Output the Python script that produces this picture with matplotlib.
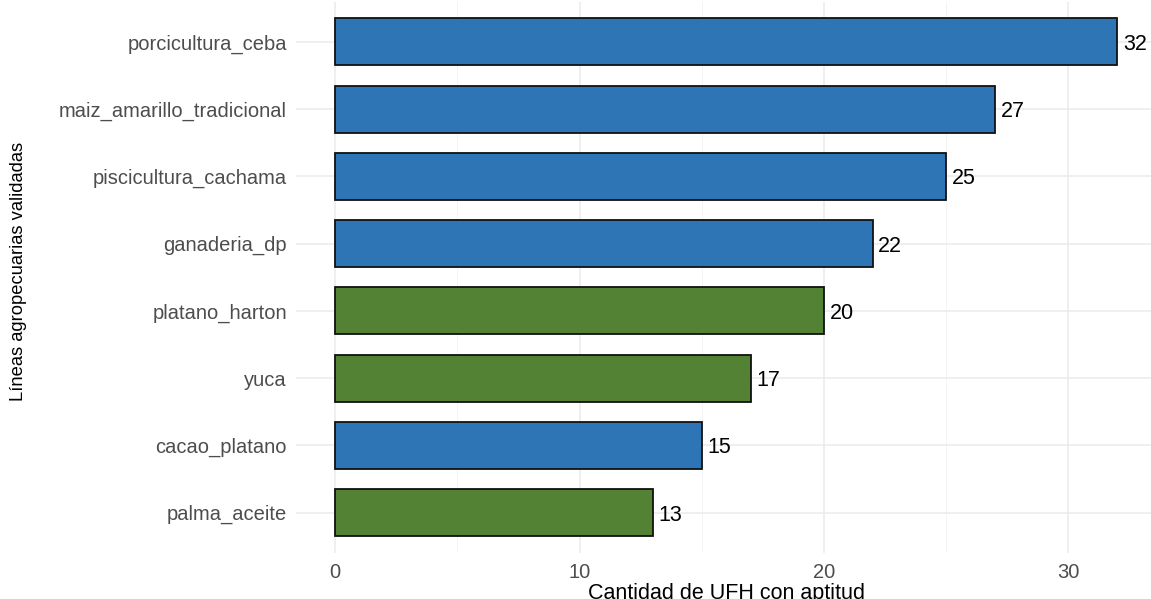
import matplotlib.pyplot as plt

# data, bottom to top
lineas = ['palma_aceite', 'cacao_platano', 'yuca', 'platano_harton',
          'ganaderia_dp', 'piscicultura_cachama', 'maiz_amarillo_tradicional',
          'porcicultura_ceba']
cantidad = [13, 15, 17, 20, 22, 25, 27, 32]
tipo = ['agricola', 'pecuaria', 'agricola', 'agricola',
        'pecuaria', 'pecuaria', 'pecuaria', 'pecuaria']

colores = {'pecuaria': '#2E75B6', 'agricola': '#548235'}

plt.rcParams['font.family'] = ['Liberation Sans', 'DejaVu Sans']

fig = plt.figure(figsize=(11.51, 5.99), dpi=100)
W, H = 1151, 599
x0, x1 = 296, 1156.5
y_top, y_bot = 1.6, 553
ax = fig.add_axes([x0 / W, (H - y_bot) / H, (x1 - x0) / W, (y_bot - y_top) / H])

ypos = list(range(1, len(lineas) + 1))
ax.barh(ypos, cantidad, height=0.7, color=[colores[t] for t in tipo],
        edgecolor='#111111', linewidth=1.3, zorder=3)
for y, v in zip(ypos, cantidad):
    ax.text(v + 0.22, y, str(v), va='center_baseline', ha='left', fontsize=15.5,
            color='black', zorder=4)

ax.set_xlim(-1.6, 33.6)
ax.set_ylim(0.4, 8.6)
ax.set_yticks(ypos)
ax.set_yticklabels(lineas)
ax.set_xticks([0, 10, 20, 30])
ax.set_xticks([5, 15, 25], minor=True)
ax.grid(which='major', color='#EBEBEB', linewidth=1.1, zorder=0)
ax.grid(which='minor', axis='x', color='#F3F3F3', linewidth=0.6, zorder=0)
ax.tick_params(axis='both', which='both', length=0, labelcolor='#4D4D4D')
ax.tick_params(axis='y', labelsize=14.5, pad=6.5)
ax.tick_params(axis='x', labelsize=14.5, pad=7)
for s in ax.spines.values():
    s.set_visible(False)

ax.set_xlabel('Cantidad de UFH con aptitud', fontsize=15.5, labelpad=1)
ax.set_ylabel('Líneas agropecuarias validadas', fontsize=13.2)
ax.yaxis.set_label_coords(-0.3126, 0.51)

fig.savefig('out.png', dpi=100)
